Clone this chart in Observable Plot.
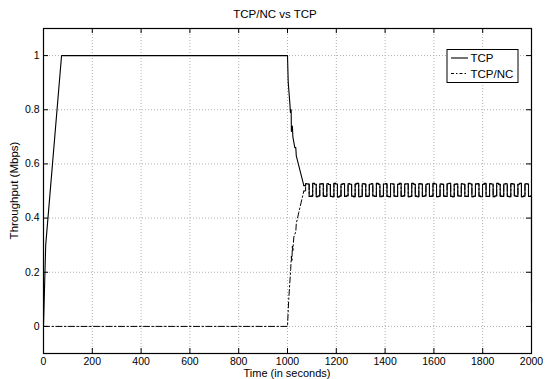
<!DOCTYPE html>
<html>
<head>
<meta charset="utf-8">
<script src="https://cdn.jsdelivr.net/npm/d3@7"></script>
<script src="https://cdn.jsdelivr.net/npm/@observablehq/plot@0.6"></script>
<style>
  html, body { margin: 0; padding: 0; background: white; }
</style>
</head>
<body>
<div id="chart"></div>
<script>
// ---- data ----
const title = "TCP/NC vs TCP";
const xLabel = "Time (in seconds)";
const yLabel = "Throughput (Mbps)";
const xTicks = [0, 200, 400, 600, 800, 1000, 1200, 1400, 1600, 1800, 2000];
const yTicks = [0, 0.2, 0.4, 0.6, 0.8, 1];

// TCP: ramp-up, saturation, drop after TCP/NC starts
const tcpT = [0, 9, 74, 1000, 1003, 1010, 1012, 1015, 1016, 1020, 1022, 1030, 1034, 1036, 1067];
const tcpV = [0, 0.30, 1.0, 1.0, 0.90, 0.82, 0.79, 0.80, 0.72, 0.74, 0.70, 0.66, 0.66, 0.63, 0.52];

// TCP/NC: idle until 1000 s, then rises
const ncT = [0, 1000, 1005, 1008, 1013, 1016, 1018, 1020, 1022, 1026, 1034, 1036, 1046, 1067];
const ncV = [0, 0, 0.10, 0.14, 0.21, 0.26, 0.24, 0.30, 0.28, 0.33, 0.35, 0.38, 0.42, 0.50];

// shared oscillation after convergence (sampled every oscStep seconds from oscStart)
const oscStart = 1067;
const oscStep = 7.25;
const oscV = [
  0.527, 0.526, 0.480, 0.481, 0.528, 0.525, 0.479, 0.482,
  0.526, 0.527, 0.481, 0.480, 0.527, 0.524, 0.480, 0.479,
  0.528, 0.526, 0.478, 0.481, 0.525, 0.527, 0.480, 0.482,
  0.527, 0.525, 0.481, 0.479, 0.526, 0.528, 0.479, 0.480,
  0.527, 0.526, 0.480, 0.481, 0.525, 0.527, 0.482, 0.480,
  0.528, 0.525, 0.479, 0.481, 0.526, 0.527, 0.480, 0.479,
  0.527, 0.526, 0.481, 0.480, 0.525, 0.528, 0.480, 0.482,
  0.526, 0.527, 0.479, 0.480, 0.528, 0.525, 0.481, 0.479,
  0.527, 0.526, 0.480, 0.482, 0.525, 0.527, 0.480, 0.481,
  0.528, 0.526, 0.479, 0.480, 0.526, 0.525, 0.481, 0.480,
  0.527, 0.528, 0.480, 0.479, 0.525, 0.526, 0.482, 0.481,
  0.527, 0.525, 0.480, 0.480, 0.528, 0.526, 0.479, 0.481,
  0.526, 0.527, 0.481, 0.479, 0.525, 0.528, 0.480, 0.480,
  0.527, 0.526, 0.479, 0.482, 0.528, 0.525, 0.481, 0.480,
  0.526, 0.527, 0.480, 0.479, 0.527, 0.526, 0.482, 0.480,
  0.525, 0.528, 0.479, 0.481, 0.527, 0.526, 0.480, 0.481
];
const endT = [2000];
const endV = [0.09];

// ---- build tables ----
const osc = oscV.map((v, i) => ({t: oscStart + oscStep * (i + 1), v}));
const tail = endT.map((t, i) => ({t, v: endV[i]}));
const tcpRamp = tcpT.map((t, i) => ({t, v: tcpV[i]}));
const ncRamp = ncT.map((t, i) => ({t, v: ncV[i]}));
const tcpOsc = [tcpRamp[tcpRamp.length - 1]].concat(osc, tail);
const ncOsc = [ncRamp[ncRamp.length - 1]].concat(osc, tail);

const W = 545, H = 379;
const mL = 43, mR = 14, mT = 28, mB = 26;
const fw = W - mL - mR, fh = H - mT - mB;
const font = "'Liberation Sans', Arial, Helvetica, sans-serif";
const tickLen = 5;
const ncDash = "6,2.5,1.5,2.5";

const chart = Plot.plot({
  width: W, height: H,
  marginLeft: mL, marginRight: mR, marginTop: mT, marginBottom: mB,
  style: {fontFamily: font, fontSize: "10.5px", background: "white", color: "black", overflow: "visible"},
  x: {domain: [0, 2000]},
  y: {domain: [-0.1, 1.1]},
  marks: [
    Plot.ruleX(xTicks, {stroke: "#b0b0b0", strokeWidth: 1, strokeDasharray: "1,2"}),
    Plot.ruleY(yTicks, {stroke: "#b0b0b0", strokeWidth: 1, strokeDasharray: "1,2"}),
    Plot.line(ncRamp, {x: "t", y: "v", stroke: "black", strokeWidth: 1, strokeDasharray: ncDash}),
    Plot.line(ncOsc, {x: "t", y: "v", stroke: "black", strokeWidth: 1, strokeDasharray: ncDash, curve: "step-after"}),
    Plot.line(tcpRamp, {x: "t", y: "v", stroke: "black", strokeWidth: 1.1}),
    Plot.line(tcpOsc, {x: "t", y: "v", stroke: "black", strokeWidth: 1.1, curve: "step-after"}),
    // inward ticks on all four sides
    Plot.ruleX(xTicks, {stroke: "black", insetTop: fh - tickLen}),
    Plot.ruleX(xTicks, {stroke: "black", insetBottom: fh - tickLen}),
    Plot.ruleY(yTicks, {stroke: "black", insetRight: fw - tickLen}),
    Plot.ruleY(yTicks, {stroke: "black", insetLeft: fw - tickLen}),
    Plot.frame({stroke: "black", strokeWidth: 1.2}),
    Plot.axisX({ticks: xTicks, tickSize: 0, tickPadding: 4, label: null, tickFormat: d3.format("d")}),
    Plot.axisY({ticks: yTicks, tickSize: 0, tickPadding: 4, label: null, tickFormat: d3.format("~g")})
  ]
});

const svg = d3.select(chart);
svg.append("text").attr("x", 275).attr("y", 18).attr("text-anchor", "middle")
  .attr("font-family", font).attr("font-size", 11.5).attr("fill", "black").text(title);
svg.append("text").attr("x", mL + fw / 2).attr("y", 376.5).attr("text-anchor", "middle")
  .attr("font-family", font).attr("font-size", 11).attr("fill", "black").text(xLabel);
svg.append("text").attr("transform", `translate(18,${mT + fh / 2}) rotate(-90)`).attr("text-anchor", "middle")
  .attr("font-family", font).attr("font-size", 11.5).attr("fill", "black").text(yLabel);

// legend
const lg = svg.append("g").attr("font-family", font).attr("font-size", 11.5).attr("text-anchor", "start");
lg.append("rect").attr("x", 447).attr("y", 49.5).attr("width", 71).attr("height", 33)
  .attr("fill", "white").attr("stroke", "black").attr("stroke-width", 1);
const entries = [
  {name: "TCP", dash: null, y: 58},
  {name: "TCP/NC", dash: "3,2,1.5,2", y: 73.5}
];
entries.forEach(e => {
  const l = lg.append("line").attr("x1", 451).attr("x2", 468).attr("y1", e.y).attr("y2", e.y)
    .attr("stroke", "black").attr("stroke-width", 1.1);
  if (e.dash) l.attr("stroke-dasharray", e.dash);
  lg.append("text").attr("x", 470.5).attr("y", e.y).attr("dy", "0.35em")
    .attr("text-anchor", "start").attr("fill", "black").text(e.name);
});

document.getElementById("chart").appendChild(chart);
</script>
</body>
</html>
